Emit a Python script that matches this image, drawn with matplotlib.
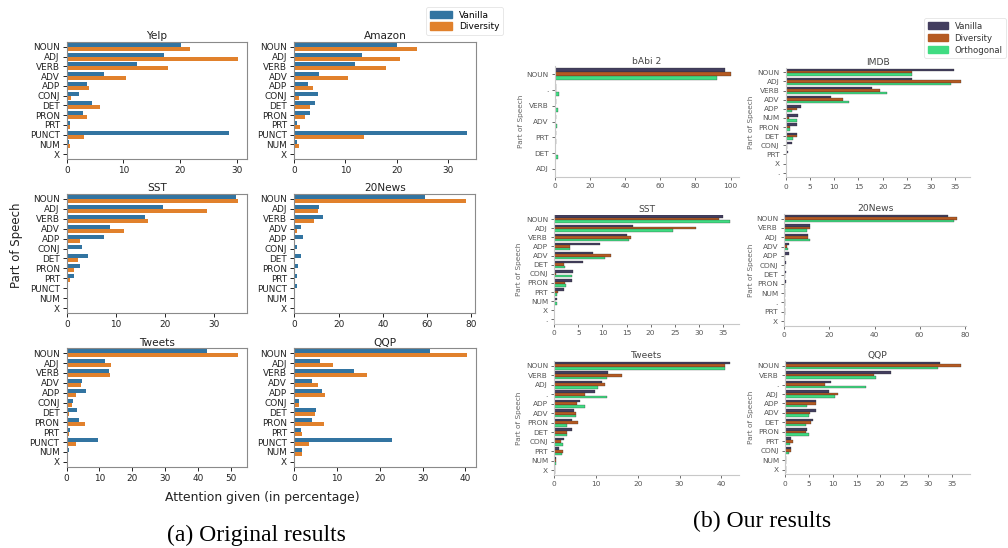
import matplotlib
matplotlib.use("Agg")
import matplotlib.pyplot as plt
import numpy as np
from matplotlib.ticker import MultipleLocator
from matplotlib.patches import Patch

plt.rcParams['font.family'] = ['DejaVu Sans']

# ---------------- (a) Original results ----------------
orig_pos = ["NOUN", "ADJ", "VERB", "ADV", "ADP", "CONJ", "DET", "PRON", "PRT", "PUNCT", "NUM", "X"]

yelp_vanilla   = [20.2, 17.2, 12.4, 6.6, 3.6, 2.1, 4.4, 2.8, 0.65, 28.7, 0.35, 0.05]
yelp_diversity = [21.8, 30.3, 17.9, 10.5, 3.9, 0.8, 5.9, 3.5, 0.65, 3.0, 0.65, 0.15]

amazon_vanilla   = [20.1, 13.2, 11.9, 4.8, 2.7, 4.6, 4.1, 3.1, 0.5, 33.8, 0.5, 0.05]
amazon_diversity = [24.1, 20.7, 18.0, 10.5, 3.7, 1.0, 3.0, 2.1, 1.2, 13.7, 0.9, 0.05]

sst_vanilla   = [34.5, 19.7, 15.9, 8.9, 7.6, 3.2, 4.3, 2.7, 1.5, 0.0, 0.3, 0.0]
sst_diversity = [34.9, 28.6, 16.6, 11.6, 2.7, 0.2, 2.3, 1.4, 0.6, 0.0, 0.1, 0.0]

news_vanilla   = [59.0, 11.3, 12.8, 3.0, 4.1, 1.4, 2.9, 1.8, 1.1, 1.2, 0.0, 0.0]
news_diversity = [77.7, 10.5, 8.9, 1.0, 0.5, 0.1, 0.1, 0.1, 0.05, 0.05, 0.0, 0.0]

tweets_vanilla   = [42.8, 11.8, 12.9, 4.7, 5.8, 2.0, 3.2, 3.8, 1.1, 9.5, 0.7, 0.1]
tweets_diversity = [52.3, 13.6, 13.3, 4.4, 2.9, 1.6, 0.7, 5.7, 0.8, 2.8, 0.05, 0.5]

qqp_vanilla   = [31.8, 6.1, 13.9, 4.1, 6.5, 1.25, 5.2, 4.3, 1.6, 22.8, 1.9, 0.0]
qqp_diversity = [40.4, 9.0, 17.0, 5.7, 7.3, 1.25, 4.8, 7.0, 1.8, 3.4, 1.9, 0.0]

# ---------------- (b) Our results ----------------
babi_pos = ["NOUN", ".", "VERB", "ADV", "PRT", "DET", "ADJ"]
babi_vanilla    = [97.0, 0.8, 0.7, 0.6, 0.3, 0.1, 0.1]
babi_diversity  = [100.0, 0.3, 0.2, 0.2, 0.1, 0.05, 0.05]
babi_orthogonal = [92.5, 2.5, 1.8, 1.0, 0.3, 1.5, 0.1]

imdb_pos = ["NOUN", "ADJ", "VERB", "ADV", "ADP", "NUM", "PRON", "DET", "CONJ", "PRT", "X", "."]
imdb_vanilla    = [34.7, 26.1, 17.8, 9.4, 3.2, 2.6, 2.4, 2.3, 1.2, 0.5, 0.0, 0.0]
imdb_diversity  = [26.1, 36.2, 19.4, 11.9, 2.4, 0.7, 0.9, 2.4, 0.2, 0.1, 0.0, 0.0]
imdb_orthogonal = [26.1, 34.0, 20.9, 13.0, 1.2, 2.3, 0.8, 1.6, 0.3, 0.1, 0.0, 0.0]

sst2_pos = ["NOUN", "ADJ", "VERB", "ADP", "ADV", "DET", "CONJ", "PRON", "PRT", "NUM", "X", "."]
sst2_vanilla    = [35.1, 16.3, 15.1, 9.4, 8.0, 6.0, 3.8, 3.75, 2.0, 0.55, 0.0, 0.0]
sst2_diversity  = [34.2, 29.4, 15.9, 3.3, 11.7, 2.0, 0.3, 2.3, 0.7, 0.2, 0.0, 0.0]
sst2_orthogonal = [36.6, 24.6, 15.5, 3.2, 10.6, 2.3, 3.7, 2.5, 0.6, 0.5, 0.0, 0.0]

news2_pos = ["NOUN", "VERB", "ADJ", "ADV", "ADP", "CONJ", "DET", "PRON", "NUM", ".", "PRT", "X"]
news2_vanilla    = [72.6, 11.6, 10.4, 1.9, 1.9, 0.7, 0.6, 0.6, 0.5, 0.4, 0.1, 0.0]
news2_diversity  = [76.7, 11.3, 10.4, 1.0, 0.4, 0.2, 0.2, 0.5, 0.3, 0.1, 0.1, 0.0]
news2_orthogonal = [75.3, 10.1, 11.6, 1.8, 0.4, 0.2, 0.4, 0.5, 0.2, 0.1, 0.1, 0.0]

tweets2_pos = ["NOUN", "VERB", "ADJ", ".", "ADP", "ADV", "PRON", "DET", "CONJ", "PRT", "NUM", "X"]
tweets2_vanilla    = [42.2, 12.9, 11.4, 9.7, 6.2, 4.7, 4.3, 4.2, 2.3, 1.2, 0.5, 0.1]
tweets2_diversity  = [40.9, 16.3, 12.1, 7.3, 5.4, 5.3, 5.7, 3.0, 1.6, 2.0, 0.3, 0.2]
tweets2_orthogonal = [40.9, 12.7, 10.5, 12.7, 7.4, 5.2, 3.0, 3.0, 2.0, 1.8, 0.5, 0.1]

qqp2_pos = ["NOUN", "VERB", ".", "ADJ", "ADP", "ADV", "DET", "PRON", "PRT", "CONJ", "NUM", "X"]
qqp2_vanilla    = [32.5, 22.2, 9.7, 9.1, 6.4, 6.4, 5.8, 4.6, 1.3, 1.3, 0.25, 0.1]
qqp2_diversity  = [37.0, 18.7, 8.3, 11.1, 6.4, 5.1, 5.5, 4.3, 1.7, 1.1, 0.25, 0.05]
qqp2_orthogonal = [32.2, 19.0, 17.0, 10.5, 4.6, 4.9, 4.3, 4.9, 1.0, 0.85, 0.2, 0.05]

# ---------------- figure ----------------
W, H = 1008, 548
fig = plt.figure(figsize=(W / 100, H / 100), dpi=100)


def add_ax(x0, y0, x1, y1):
    return fig.add_axes([x0 / W, 1 - y1 / H, (x1 - x0) / W, (y1 - y0) / H])


C_V = "#3274a1"
C_D = "#e1812c"


def orig_panel(box, title, v, d, step):
    ax = add_ax(*box)
    y = np.arange(len(orig_pos))
    ax.barh(y - 0.2, v, height=0.4, color=C_V)
    ax.barh(y + 0.2, d, height=0.4, color=C_D)
    ax.set_ylim(len(orig_pos) - 0.5, -0.5)
    ax.set_yticks(y)
    ax.set_yticklabels(orig_pos)
    ax.xaxis.set_major_locator(MultipleLocator(step))
    ax.tick_params(labelsize=6.4, length=3, width=0.7, colors="#222222", pad=2)
    for s in ax.spines.values():
        s.set_color("#8a8a8a")
        s.set_linewidth(0.8)
    ax.set_title(title, fontsize=7.6, pad=2, color="#222222")
    return ax


orig_panel((66.7, 42, 247, 159), "Yelp", yelp_vanilla, yelp_diversity, 10)
orig_panel((294.3, 42, 475.7, 159), "Amazon", amazon_vanilla, amazon_diversity, 10)
orig_panel((66.7, 194, 246.7, 313), "SST", sst_vanilla, sst_diversity, 10)
orig_panel((294.3, 194, 475, 313), "20News", news_vanilla, news_diversity, 20)
orig_panel((66.5, 348.3, 246.7, 466.7), "Tweets", tweets_vanilla, tweets_diversity, 10)
orig_panel((294, 348.3, 475.7, 466.7), "QQP", qqp_vanilla, qqp_diversity, 10)

fig.text(17 / W, 1 - 245 / H, "Part of Speech", rotation=90, fontsize=8.5,
         ha="center", va="center", color="#222222")
fig.text(262 / W, 1 - 497 / H, "Attention given (in percentage)", fontsize=8.9,
         ha="center", va="center", color="#222222")

leg1 = fig.legend(handles=[Patch(color=C_V, label="Vanilla"), Patch(color=C_D, label="Diversity")],
                  loc="upper right", bbox_to_anchor=(503 / W, 1 - 7 / H), fontsize=6.5,
                  frameon=True, handlelength=2.4, handleheight=0.9, borderpad=0.4,
                  labelspacing=0.3, handletextpad=0.8, borderaxespad=0)
leg1.get_frame().set_edgecolor("#dddddd")
leg1.get_frame().set_linewidth(0.6)

# ---------------- (b) panels ----------------
C_VV = "#433e5f"
C_DD = "#b55a22"
C_OO = "#40dc82"
GREY = "#555555"


def our_panel(box, title, cats, v, d, o, step, ylabel_x):
    ax = add_ax(*box)
    y = np.arange(len(cats))
    h = 0.8 / 3
    ax.barh(y - h, v, height=h, color=C_VV, edgecolor="#2a2a2a", linewidth=0.2)
    ax.barh(y, d, height=h, color=C_DD, edgecolor="#2a2a2a", linewidth=0.2)
    ax.barh(y + h, o, height=h, color=C_OO, edgecolor="#2a2a2a", linewidth=0.2)
    ax.set_ylim(len(cats) - 0.5, -0.5)
    ax.set_yticks(y)
    ax.set_yticklabels(cats)
    ax.xaxis.set_major_locator(MultipleLocator(step))
    ax.tick_params(labelsize=5.3, length=2.5, width=0.6, colors=GREY, pad=2)
    ax.spines["top"].set_visible(False)
    ax.spines["right"].set_visible(False)
    for s in ("left", "bottom"):
        ax.spines[s].set_color("#c8c8c8")
        ax.spines[s].set_linewidth(0.8)
    ax.set_title(title, fontsize=6.6, pad=2, color="#444444")
    cy = (box[1] + box[3]) / 2
    fig.text(ylabel_x / W, 1 - cy / H, "Part of Speech", rotation=90, fontsize=5.3,
             ha="center", va="center", color="#666666")
    return ax


our_panel((555, 66.3, 739.3, 176.7), "bAbi 2", babi_pos, babi_vanilla, babi_diversity,
          babi_orthogonal, 20, 520.7)
our_panel((785.7, 67.7, 970, 177.3), "IMDB", imdb_pos, imdb_vanilla, imdb_diversity,
          imdb_orthogonal, 5, 750.7)
our_panel((554.3, 214.5, 739.3, 324), "SST", sst2_pos, sst2_vanilla, sst2_diversity,
          sst2_orthogonal, 5, 519.5)
our_panel((784.3, 214, 966, 325.7), "20News", news2_pos, news2_vanilla, news2_diversity,
          news2_orthogonal, 20, 750.7)
our_panel((554.3, 361, 739.3, 475), "Tweets", tweets2_pos, tweets2_vanilla, tweets2_diversity,
          tweets2_orthogonal, 10, 519.5)
our_panel((785.3, 361, 970, 474.3), "QQP", qqp2_pos, qqp2_vanilla, qqp2_diversity,
          qqp2_orthogonal, 5, 750.7)

leg2 = fig.legend(handles=[Patch(color=C_VV, label="Vanilla"), Patch(color=C_DD, label="Diversity"),
                           Patch(color=C_OO, label="Orthogonal")],
                  loc="upper right", bbox_to_anchor=(1006 / W, 1 - 18.3 / H), fontsize=6.1,
                  frameon=True, handlelength=2.4, handleheight=0.9, borderpad=0.4,
                  labelspacing=0.35, handletextpad=0.8, borderaxespad=0)
leg2.get_frame().set_edgecolor("#dddddd")
leg2.get_frame().set_linewidth(0.6)
for t in leg2.get_texts():
    t.set_color("#333333")

# captions
fig.text(256 / W, 1 - 535 / H, "(a) Original results", fontsize=17,
         family="Liberation Serif", ha="center", va="center")
fig.text(762 / W, 1 - 521 / H, "(b) Our results", fontsize=17,
         family="Liberation Serif", ha="center", va="center")

fig.savefig("out.png", dpi=100)
